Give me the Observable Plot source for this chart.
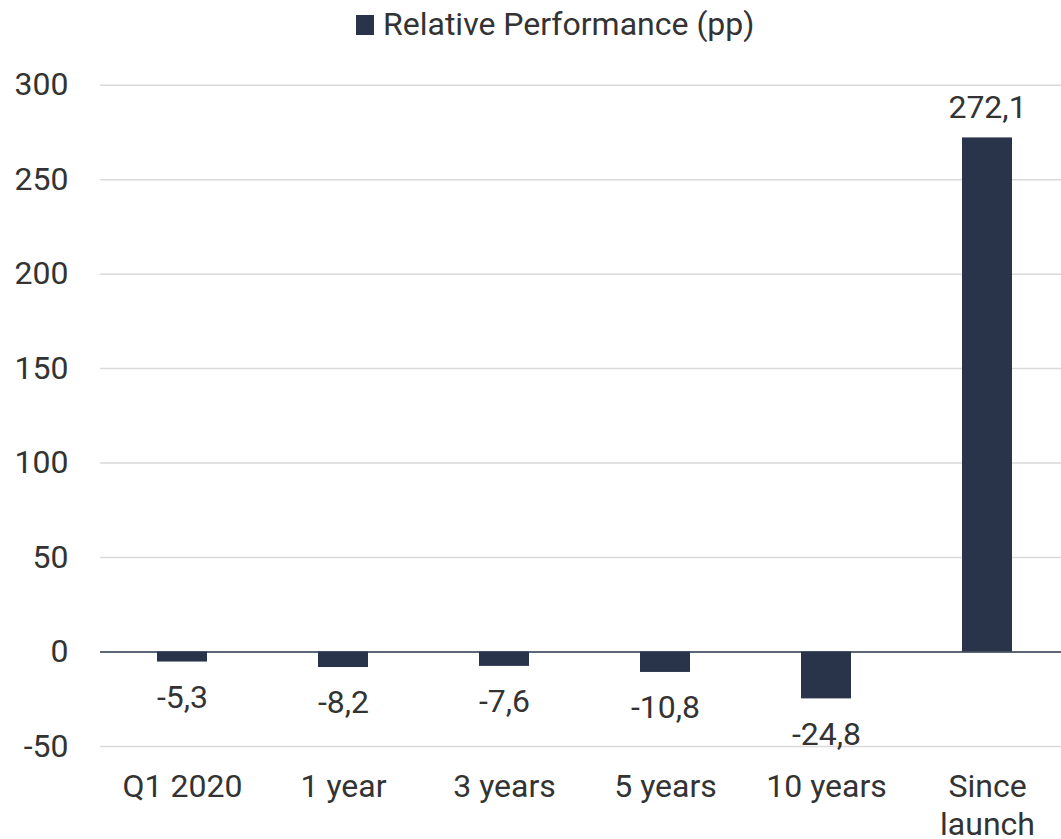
<!DOCTYPE html>
<html>
<head>
<meta charset="utf-8">
<script src="https://cdn.jsdelivr.net/npm/d3@7"></script>
<script src="https://cdn.jsdelivr.net/npm/@observablehq/plot@0.6"></script>
<style>
  html, body { margin: 0; padding: 0; background: #fff; }
  body { width: 1061px; height: 839px; overflow: hidden; position: relative; font-family: Roboto, "Noto Sans", sans-serif; }
  #legend { position: absolute; left: 356px; top: 0; height: 48px; display: flex; align-items: center; font-size: 32px; color: #333; }
  #legend .sw { width: 18px; height: 20px; background: #29344a; margin-right: 9px; margin-top: 2px; }
  #chart { position: absolute; left: 0; top: 50px; }
</style>
</head>
<body>
<div id="legend"><div class="sw"></div><span>Relative Performance (pp)</span></div>
<div id="chart"></div>
<script>
const categories = ["Q1 2020", "1 year", "3 years", "5 years", "10 years", "Since launch"];
const tickLabels = ["Q1 2020", "1 year", "3 years", "5 years", "10 years", "Since\nlaunch"];
const values = [-5.3, -8.2, -7.6, -10.8, -24.8, 272.1];
const yTicks = [-50, 0, 50, 100, 150, 200, 250, 300];
const seriesName = "Relative Performance (pp)";

const data = categories.map((c, i) => ({cat: c, value: values[i]}));
const fmt = v => v.toFixed(1).replace(".", ",");
const barColor = "#29344a";
const textColor = "#333333";

const chart = Plot.plot({
  width: 1061,
  height: 789,
  marginLeft: 100,
  marginRight: 0,
  marginTop: 34.7,
  marginBottom: 93,
  style: {fontFamily: "Roboto, 'Noto Sans', sans-serif", fontSize: "32px", color: textColor, background: "#fff", overflow: "visible"},
  x: {domain: categories, range: [100, 1069], paddingInner: 0.688, paddingOuter: 0.338, label: null},
  y: {domain: [-50, 300], label: null},
  marks: [
    Plot.ruleY(yTicks.filter(d => d !== 0), {stroke: "#d9d9d9", strokeWidth: 1.5}),
    Plot.barY(data, {x: "cat", y: "value", fill: barColor}),
    Plot.ruleY([0], {stroke: barColor, strokeWidth: 1.5}),
    Plot.text(data.filter(d => d.value >= 0), {x: "cat", y: "value", text: d => fmt(d.value), lineAnchor: "bottom", dy: -20, fill: textColor, fontSize: 32}),
    Plot.text(data.filter(d => d.value < 0), {x: "cat", y: "value", text: d => fmt(d.value), lineAnchor: "top", dy: 23, fill: textColor, fontSize: 32}),
    Plot.axisY({ticks: yTicks, tickSize: 0, tickPadding: 32, tickFormat: d => String(d), fontSize: 32, fill: textColor, label: null}),
    Plot.axisX({tickSize: 0, tickPadding: 23, tickFormat: d => tickLabels[categories.indexOf(d)], fontSize: 32, fill: textColor, lineHeight: 1.19, label: null})
  ]
});
document.getElementById("chart").appendChild(chart);
</script>
</body>
</html>
